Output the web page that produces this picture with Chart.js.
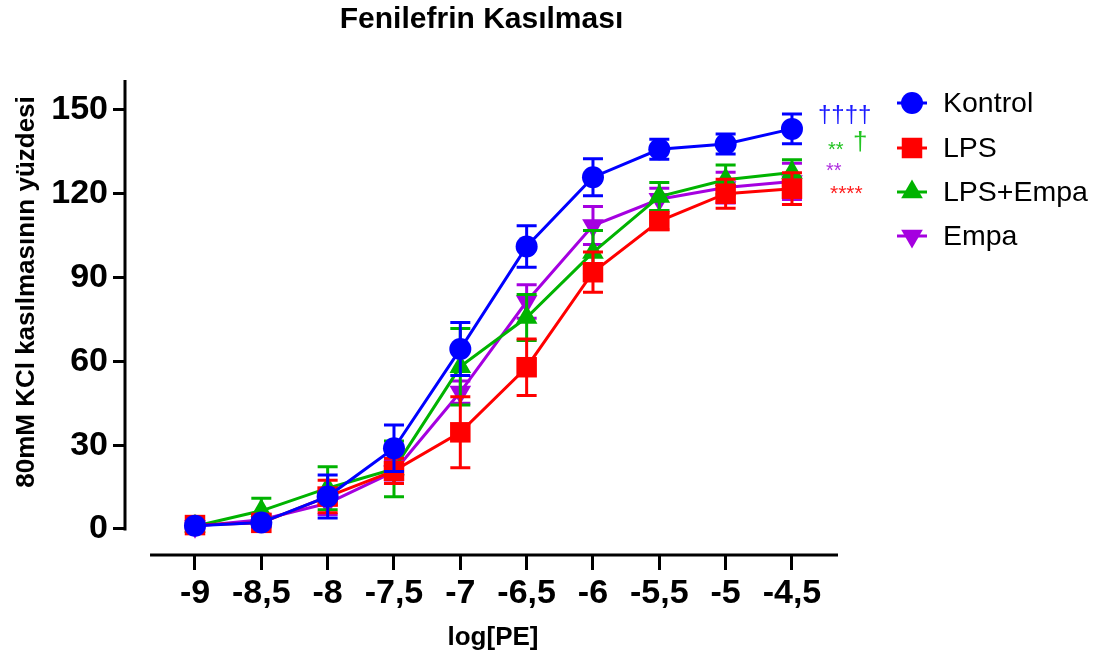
<!DOCTYPE html>
<html>
<head>
<meta charset="utf-8">
<script src="https://cdn.jsdelivr.net/npm/chart.js@4.4.1/dist/chart.umd.min.js"></script>
<style>
html,body{margin:0;padding:0;background:#fff;}
canvas{display:block;}
</style>
</head>
<body>
<canvas id="c" width="1104" height="659" style="width:1104px;height:659px"></canvas>
<script>
// ---- data ----
const logPE = [-9, -8.5, -8, -7.5, -7, -6.5, -6, -5.5, -5, -4.5];
const xTickValues = [-9, -8.5, -8, -7.5, -7, -6.5, -6, -5.5, -5, -4.5];
const xTickLabels = ['-9', '-8,5', '-8', '-7,5', '-7', '-6,5', '-6', '-5,5', '-5', '-4,5'];
const yTickValues = [0, 30, 60, 90, 120, 150];
const yTickLabels = ['0', '30', '60', '90', '120', '150'];

const seriesNames = ['Kontrol', 'LPS', 'LPS+Empa', 'Empa'];
const kontrol    = [1.2, 2.3, 11.6, 28.9, 64.4, 101.1, 125.9, 135.9, 137.8, 143.2];
const kontrolErr = [1.0, 1.5, 7.7, 8.3, 9.5, 7.4, 6.6, 3.6, 3.6, 5.3];
const lps        = [1.4, 2.2, 11.6, 20.8, 34.6, 57.9, 91.9, 110.2, 120.0, 121.8];
const lpsErr     = [1.0, 1.5, 5.8, 4.5, 12.7, 10.1, 7.2, 3.0, 5.2, 5.7];
const lpsEmpa    = [1.0, 6.5, 14.6, 21.5, 58.1, 75.7, 99.0, 119.0, 125.0, 127.6];
const lpsEmpaErr = [1.0, 4.5, 7.7, 10.0, 13.7, 8.2, 7.8, 5.0, 5.3, 4.6];
const empa       = [1.0, 3.3, 9.2, 20.5, 49.0, 81.4, 108.6, 118.0, 122.2, 124.4];
const empaErr    = [1.0, 1.5, 4.0, 4.0, 4.0, 6.0, 6.8, 4.0, 5.5, 6.5];

const values = [kontrol, lps, lpsEmpa, empa];
const errors = [kontrolErr, lpsErr, lpsEmpaErr, empaErr];
const colors = ['#0000ff', '#ff0000', '#00b300', '#a500e0'];
const pointStyles = ['circle', 'rect', 'triangle', 'triangle'];
const pointRadii = [11, 14.5, 12.5, 12.5];
const pointRotations = [0, 0, 0, 180];

// significance annotations: [text, color, x, baseline y, font size]
const annotations = [
  ['††††', '#1a1aff', 818, 122, 24],
  ['**', '#22c422', 828, 156, 20],
  ['†', '#22c422', 853, 150, 26],
  ['**', '#b030e0', 826, 177, 20],
  ['****', '#ff2020', 830, 200, 21]
];

const FONT = '"Liberation Sans", Arial, Helvetica, sans-serif';

const datasets = values.map((arr, k) => ({
  label: seriesNames[k],
  data: logPE.map((x, i) => ({x: x, y: arr[i]})),
  borderColor: colors[k],
  backgroundColor: colors[k],
  borderWidth: 3,
  pointStyle: pointStyles[k],
  pointRadius: pointRadii[k],
  pointHoverRadius: pointRadii[k],
  pointRotation: pointRotations[k],
  pointBorderWidth: 0,
  pointBackgroundColor: colors[k],
  tension: 0,
  fill: false,
  clip: false
}));

const errorBarPlugin = {
  id: 'errorBars',
  beforeDatasetDraw(chart, args) {
    const k = args.index;
    const ys = chart.scales.y;
    const ctx = chart.ctx;
    ctx.save();
    ctx.strokeStyle = colors[k];
    ctx.lineWidth = 3;
    args.meta.data.forEach((pt, i) => {
      const v = values[k][i], e = errors[k][i];
      const t = ys.getPixelForValue(v + e), b = ys.getPixelForValue(v - e);
      const x = pt.x;
      ctx.beginPath();
      ctx.moveTo(x, t); ctx.lineTo(x, b);
      ctx.moveTo(x - 10, t); ctx.lineTo(x + 10, t);
      ctx.moveTo(x - 10, b); ctx.lineTo(x + 10, b);
      ctx.stroke();
    });
    ctx.restore();
  }
};

const X_AXIS_START = -9.339;

const decorPlugin = {
  id: 'decor',
  afterDraw(chart) {
    const ctx = chart.ctx;
    const xs = chart.scales.x, ys = chart.scales.y;
    const area = chart.chartArea;
    ctx.save();
    // axis lines
    ctx.strokeStyle = '#000';
    ctx.lineWidth = 3;
    ctx.lineCap = 'butt';
    ctx.beginPath();
    ctx.moveTo(xs.getPixelForValue(X_AXIS_START), area.bottom);
    ctx.lineTo(area.right, area.bottom);
    ctx.stroke();
    ctx.beginPath();
    ctx.moveTo(area.left, area.top);
    ctx.lineTo(area.left, ys.getPixelForValue(0) + 1.5);
    ctx.stroke();

    // axis titles
    ctx.fillStyle = '#000';
    ctx.textAlign = 'center';
    ctx.textBaseline = 'middle';
    ctx.font = 'bold 26px ' + FONT;
    ctx.fillText('log[PE]', 493, 638);
    ctx.save();
    ctx.translate(27, 292);
    ctx.rotate(-Math.PI / 2);
    ctx.fillText('80mM KCl kasılmasının yüzdesi', 0, 0);
    ctx.restore();

    // legend
    ctx.textAlign = 'left';
    ctx.font = '28.5px ' + FONT;
    const legendY = [103, 148, 192, 236];
    chart.data.datasets.forEach((ds, k) => {
      const y = legendY[k];
      ctx.strokeStyle = colors[k];
      ctx.lineWidth = 3;
      ctx.beginPath();
      ctx.moveTo(897, y); ctx.lineTo(927, y);
      ctx.stroke();
      ctx.fillStyle = colors[k];
      Chart.helpers.drawPoint(ctx, {pointStyle: pointStyles[k], radius: pointRadii[k], rotation: pointRotations[k], borderWidth: 0}, 912, y);
      ctx.fillStyle = '#000';
      ctx.fillText(ds.label, 943, y + 1);
    });

    // annotations
    ctx.textBaseline = 'alphabetic';
    annotations.forEach(a => {
      ctx.fillStyle = a[1];
      ctx.font = a[4] + 'px ' + FONT;
      ctx.fillText(a[0], a[2], a[3]);
    });
    ctx.restore();
  }
};

new Chart(document.getElementById('c'), {
  type: 'line',
  data: {datasets: datasets},
  plugins: [errorBarPlugin, decorPlugin],
  options: {
    responsive: false,
    animation: false,
    devicePixelRatio: 1,
    layout: {padding: {left: 0, right: 266, top: 0, bottom: 0}},
    plugins: {
      legend: {display: false},
      tooltip: {enabled: false},
      title: {
        display: true,
        text: 'Fenilefrin Kasılması',
        fullSize: false,
        color: '#000',
        font: {family: FONT, size: 30, weight: 'bold', lineHeight: 1.2},
        padding: {top: 2, bottom: 42}
      }
    },
    scales: {
      x: {
        type: 'linear',
        min: -9.5276,
        max: -4.153,
        afterFit(s) { s.height = 104; },
        afterBuildTicks(s) { s.ticks = xTickValues.map(v => ({value: v})); },
        border: {display: false},
        grid: {display: true, drawOnChartArea: false, drawTicks: true, tickLength: 15, tickWidth: 3, tickColor: '#000', color: '#000', lineWidth: 3},
        ticks: {
          autoSkip: false, maxRotation: 0, minRotation: 0, padding: 3,
          color: '#000',
          font: {family: FONT, size: 34, weight: 'bold'},
          callback(v) { const i = xTickValues.indexOf(v); return i >= 0 ? xTickLabels[i] : ''; }
        }
      },
      y: {
        type: 'linear',
        min: -9.31,
        max: 160.7,
        afterFit(s) { s.width = 125; },
        afterBuildTicks(s) { s.ticks = yTickValues.map(v => ({value: v})); },
        border: {display: false},
        grid: {display: true, drawOnChartArea: false, drawTicks: true, tickLength: 12, tickWidth: 3, tickColor: '#000', color: '#000', lineWidth: 3},
        ticks: {
          autoSkip: false, padding: 5,
          color: '#000',
          font: {family: FONT, size: 34, weight: 'bold'},
          callback(v) { const i = yTickValues.indexOf(v); return i >= 0 ? yTickLabels[i] : ''; }
        }
      }
    }
  }
});
</script>
</body>
</html>
